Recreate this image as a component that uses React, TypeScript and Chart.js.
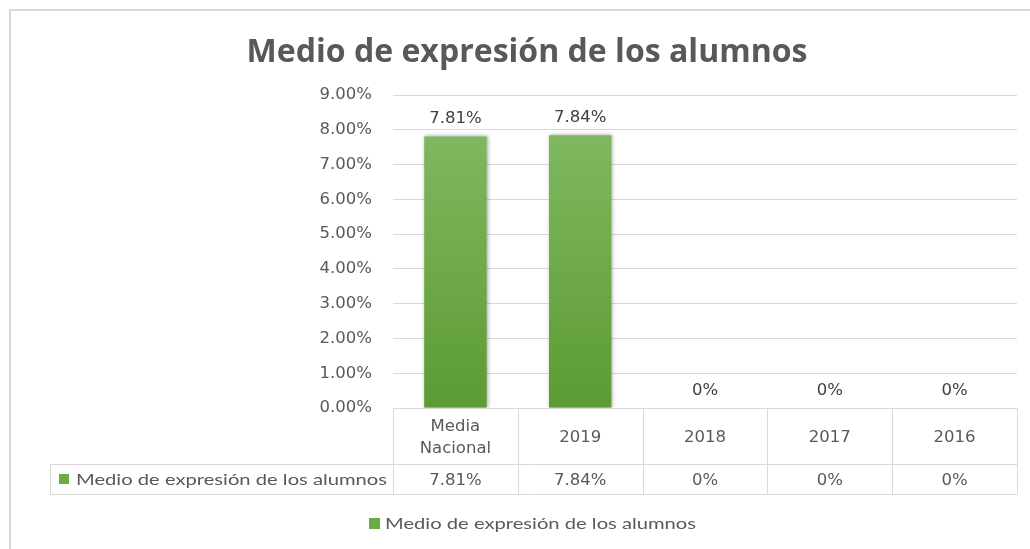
import React, { useEffect, useRef } from "react";
import { Chart, registerables } from "chart.js";

Chart.register(...registerables);

// ---------- data ----------
const chartTitle = "Medio de expresión de los alumnos";
const seriesName = "Medio de expresión de los alumnos";
const categories: (string | string[])[] = [["Media", "Nacional"], "2019", "2018", "2017", "2016"];
const values: number[] = [7.81, 7.84, 0, 0, 0];
const yMax = 9;
const yStep = 1;

// ---------- style ----------
const TEXT = "#595959";
const LINE = "#d9d9d9";
const SMALL_FONT = "16.5px 'DejaVu Sans'";
const LEGEND_FONT = "16px Lato";
const TITLE_FONT = "bold 33px 'Open Sans'";

const fmtVal = (v: number) => (v === 0 ? "0%" : v.toFixed(2) + "%");
const fmtTick = (v: number) => v.toFixed(2) + "%";

function fillFit(ctx: CanvasRenderingContext2D, text: string, x: number, y: number, width: number, align: CanvasTextAlign) {
  const w = ctx.measureText(text).width;
  const sx = w > 0 ? width / w : 1;
  ctx.save();
  ctx.translate(x, y);
  ctx.scale(sx, 1);
  ctx.textAlign = align;
  ctx.fillText(text, 0, 0);
  ctx.restore();
}

const shadowPlugin = {
  id: "barShadow",
  beforeDatasetsDraw(chart: any) {
    const ctx = chart.ctx;
    ctx.save();
    ctx.shadowColor = "rgba(0,0,0,0.35)";
    ctx.shadowBlur = 4;
    ctx.shadowOffsetX = 1;
    ctx.shadowOffsetY = 0;
  },
  afterDatasetsDraw(chart: any) {
    chart.ctx.restore();
  },
};

const decorPlugin = {
  id: "decor",
  afterDraw(chart: any) {
    const ctx: CanvasRenderingContext2D = chart.ctx;
    const area = chart.chartArea;
    const xs = chart.scales.x;
    const n = categories.length;
    const catW = (area.right - area.left) / n;

    ctx.save();
    // outer frame
    ctx.strokeStyle = LINE;
    ctx.lineWidth = 2;
    ctx.beginPath();
    ctx.moveTo(10, chart.height);
    ctx.lineTo(10, 10);
    ctx.lineTo(chart.width, 10);
    ctx.stroke();

    // title
    ctx.fillStyle = TEXT;
    ctx.font = TITLE_FONT;
    ctx.textBaseline = "alphabetic";
    fillFit(ctx, chartTitle, 527, 62, 561, "center");

    // data labels
    ctx.font = SMALL_FONT;
    ctx.fillStyle = "#404040";
    const meta = chart.getDatasetMeta(0);
    meta.data.forEach((bar: any, i: number) => {
      ctx.textAlign = "center";
      ctx.fillText(fmtVal(values[i]), bar.x, bar.y - 13);
    });

    // data table
    const top = area.bottom;
    const mid = top + 56;
    const bot = mid + 30;
    const labelLeft = 50;
    ctx.strokeStyle = LINE;
    ctx.lineWidth = 1;
    ctx.beginPath();
    ctx.moveTo(area.left, top + 0.5);
    ctx.lineTo(area.right, top + 0.5);
    ctx.moveTo(labelLeft, mid + 0.5);
    ctx.lineTo(area.right, mid + 0.5);
    ctx.moveTo(labelLeft, bot + 0.5);
    ctx.lineTo(area.right, bot + 0.5);
    for (let i = 0; i <= n; i++) {
      const x = Math.round(area.left + i * catW) + 0.5;
      ctx.moveTo(x, top);
      ctx.lineTo(x, bot);
    }
    ctx.moveTo(labelLeft + 0.5, mid);
    ctx.lineTo(labelLeft + 0.5, bot);
    ctx.stroke();

    ctx.fillStyle = TEXT;
    ctx.font = SMALL_FONT;
    ctx.textAlign = "center";
    const headC = (top + mid) / 2;
    const rowC = (mid + bot) / 2;
    categories.forEach((c, i) => {
      const cx = xs.getPixelForValue(i);
      const lines = Array.isArray(c) ? c : [c];
      const lh = 22;
      const start = headC - ((lines.length - 1) * lh) / 2;
      lines.forEach((t, k) => ctx.fillText(t, cx, start + k * lh + 6));
      ctx.fillText(fmtVal(values[i]), cx, rowC + 6);
    });

    // row label with key
    ctx.fillStyle = "#6aab45";
    ctx.fillRect(59, rowC - 5, 10, 10);
    ctx.fillStyle = TEXT;
    ctx.font = LEGEND_FONT;
    fillFit(ctx, seriesName, 76, rowC + 6, 311, "left");

    // legend below
    const ly = 523;
    ctx.fillStyle = "#6aab45";
    ctx.fillRect(369, ly - 5, 11, 11);
    ctx.fillStyle = TEXT;
    ctx.font = LEGEND_FONT;
    fillFit(ctx, seriesName, 385, ly + 6, 311, "left");

    ctx.restore();
  },
};

export default function App() {
  const ref = useRef<HTMLCanvasElement | null>(null);

  useEffect(() => {
    if (!ref.current) return;
    const chart = new Chart(ref.current, {
      type: "bar",
      data: {
        labels: categories as any,
        datasets: [
          {
            label: seriesName,
            data: values,
            backgroundColor: (c: any) => {
              const area = c.chart.chartArea;
              if (!area) return "#6aab45";
              const g = c.chart.ctx.createLinearGradient(0, area.top, 0, area.bottom);
              g.addColorStop(0, "#84bc66");
              g.addColorStop(1, "#5c9b33");
              return g;
            },
            borderWidth: 0,
            categoryPercentage: 1,
            barPercentage: 0.5,
          },
        ],
      },
      options: {
        animation: false,
        responsive: true,
        maintainAspectRatio: false,
        layout: { padding: { top: 95, right: 13, bottom: 141, left: 0 } },
        plugins: {
          legend: { display: false },
          title: { display: false },
          tooltip: { enabled: false },
        },
        scales: {
          x: { display: false },
          y: {
            min: 0,
            max: yMax,
            ticks: {
              stepSize: yStep,
              callback: (v: any) => fmtTick(Number(v)),
              color: TEXT,
              font: { family: "DejaVu Sans", size: 16.5 },
              padding: 21,
            },
            grid: { color: LINE, lineWidth: 1, drawTicks: false },
            border: { display: false },
            afterFit: (s: any) => {
              s.width = 393;
            },
          },
        },
      },
      plugins: [shadowPlugin, decorPlugin],
    });
    return () => chart.destroy();
  }, []);

  return (
    <div style={{ position: "fixed", left: 0, top: 0, width: 1030, height: 549, background: "#fff" }}>
      <canvas ref={ref} />
    </div>
  );
}
